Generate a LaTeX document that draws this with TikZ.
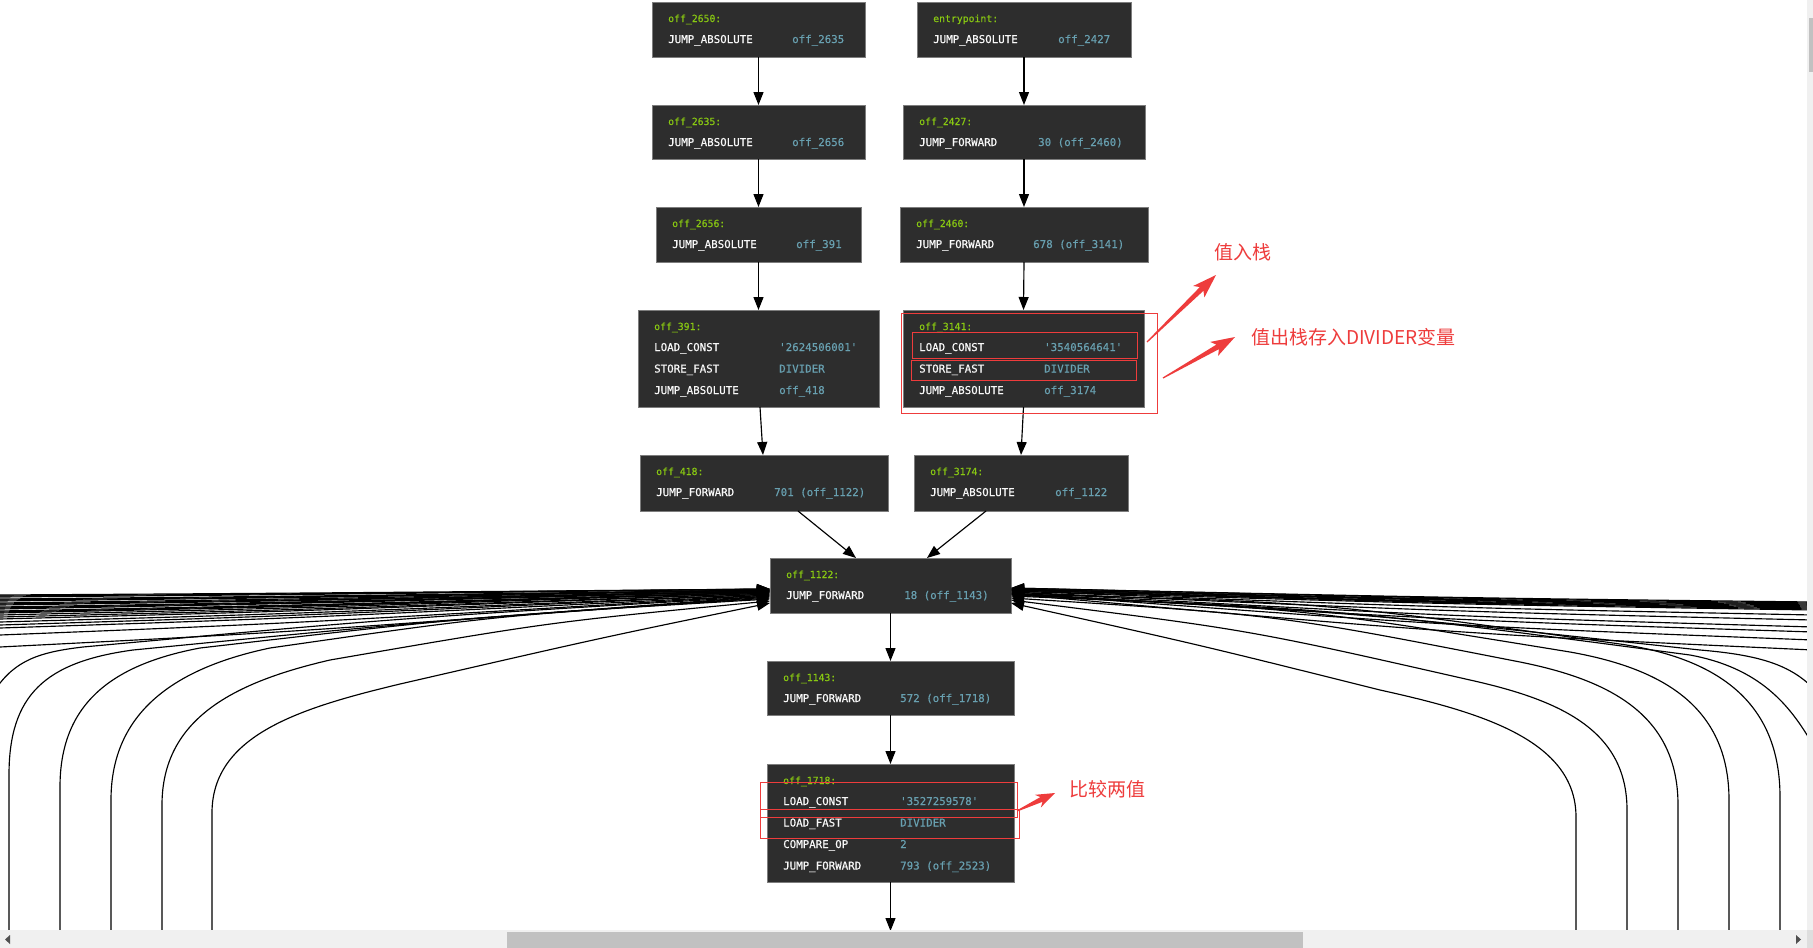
\documentclass[tikz,border=0pt]{standalone}
\usepackage{fontspec}
\usetikzlibrary{arrows.meta,calc}
\newfontfamily\codefont[FakeBold=0.45]{DejaVu Sans Mono}
\newfontfamily\cjk{Noto Sans CJK SC}
\definecolor{boxbg}{RGB}{45,45,45}
\definecolor{boxln}{RGB}{125,125,125}
\definecolor{lblc}{RGB}{136,200,18}
\definecolor{opcol}{RGB}{248,248,248}
\definecolor{argcol}{RGB}{104,160,176}
\definecolor{redc}{RGB}{238,60,60}
\definecolor{sbtrack}{RGB}{240,240,240}
\definecolor{sbthumb}{RGB}{193,193,193}
\definecolor{sbarrow}{RGB}{80,80,80}
\definecolor{sbcorner}{RGB}{222,222,222}

% name, x, y, width, height, label, arg column offset, rows
\newcommand\cfgbox[8]{%
  \node[blk, minimum width=#4pt, minimum height=#5pt] (#1) at (#2,#3) {};
  \node[lbl] (#1l) at ($(#1.north west)+(16,20)$) {#6};
  \foreach \xo/\xa [count=\i] in {#8} {
    \node[opc] (#1o\i) at ($(#1.north west)+(16,{41+21.5*(\i-1)})$) {\xo};
    \node[argc] (#1a\i) at ($(#1.north west)+(#7,{41+21.5*(\i-1)})$) {\xa};
  }%
}
% tail, tip, head length, head half width
\newcommand\redarr[4]{%
  \coordinate (#2H) at ($(#2)!#3!(#1)$);
  \coordinate (#2B) at ($(#2)!#3+4pt!(#1)$);
  \fill[redc] ($(#1)!0.6pt!90:(#2)$) -- ($(#2H)!2.6pt!90:(#2)$) -- ($(#2B)!#4!90:(#2)$) -- (#2)
     -- ($(#2B)!#4!-90:(#2)$) -- ($(#2H)!2.6pt!-90:(#2)$) -- ($(#1)!0.6pt!-90:(#2)$) -- cycle;
}

\begin{document}
\begin{tikzpicture}[x=1pt,y=-1pt,
  blk/.style={fill=boxbg, draw=boxln, line width=1pt, anchor=north west, inner sep=0pt, outer sep=0pt},
  lbl/.style={anchor=base west, inner sep=0pt, text=lblc, font=\codefont\fontsize{9.8}{11}\selectfont},
  opc/.style={anchor=base west, inner sep=0pt, text=opcol, font=\codefont\fontsize{10.8}{12}\selectfont},
  argc/.style={opc, text=argcol},
  flow/.style={draw=black, line width=1.15pt, -{Triangle[length=13pt,width=10pt]}},
  note/.style={draw=redc, line width=0.9pt},
  notetext/.style={text=redc, font=\cjk\fontsize{19}{22}\selectfont, anchor=west, inner sep=0pt}]

\useasboundingbox (0,0) rectangle (1813,948);
\fill[white] (0,0) rectangle (1813,948);

% ---------------- blocks ----------------
\cfgbox{n2650}{652}{2}{213}{55}{off\_2650:}{140}{JUMP\_ABSOLUTE/off\_2635}
\cfgbox{nentry}{917}{2}{214}{55}{entrypoint:}{141}{JUMP\_ABSOLUTE/off\_2427}
\cfgbox{n2635}{652}{105}{213}{54}{off\_2635:}{140}{JUMP\_ABSOLUTE/off\_2656}
\cfgbox{n2427}{903}{105}{242}{54}{off\_2427:}{135}{JUMP\_FORWARD/{30 (off\_2460)}}
\cfgbox{n2656}{656}{207}{205}{55}{off\_2656:}{140}{JUMP\_ABSOLUTE/off\_391}
\cfgbox{n2460}{900}{207}{248}{55}{off\_2460:}{133}{JUMP\_FORWARD/{678 (off\_3141)}}
\cfgbox{n391}{638}{310}{241}{97}{off\_391:}{141}{LOAD\_CONST/'2624506001', STORE\_FAST/DIVIDER, JUMP\_ABSOLUTE/off\_418}
\cfgbox{n3141}{903}{310}{241}{97}{off\_3141:}{141}{LOAD\_CONST/'3540564641', STORE\_FAST/DIVIDER, JUMP\_ABSOLUTE/off\_3174}
\cfgbox{n418}{640}{455}{248}{56}{off\_418:}{134}{JUMP\_FORWARD/{701 (off\_1122)}}
\cfgbox{n3174}{914}{455}{214}{56}{off\_3174:}{141}{JUMP\_ABSOLUTE/off\_1122}
\cfgbox{n1122}{770}{558}{241}{55}{off\_1122:}{134}{JUMP\_FORWARD/{18 (off\_1143)}}
\cfgbox{n1143}{767}{661}{247}{54}{off\_1143:}{133}{JUMP\_FORWARD/{572 (off\_1718)}}
\cfgbox{n1718}{767}{764}{247}{118}{off\_1718:}{133}{LOAD\_CONST/'3527259578', LOAD\_FAST/DIVIDER, COMPARE\_OP/2, JUMP\_FORWARD/{793 (off\_2523)}}

% ---------------- straight edges ----------------
\draw[flow] (n2650.south) -- (n2635.north);
\draw[flow] (nentry.south) -- (n2427.north);
\draw[flow] (n2635.south) -- (n2656.north);
\draw[flow] (n2427.south) -- (n2460.north);
\draw[flow] (n2656.south) -- (n391.north);
\draw[flow] (n2460.south) -- (n3141.north);
\draw[flow] ($(n391.south)+(1.5,0)$) -- ($(n418.north)+(-1,0)$);
\draw[flow] (n3141.south) -- (n3174.north);
\draw[flow] ($(n418.south)+(34,0)$) -- ($(n1122.north west)+(86,0)$);
\draw[flow] ($(n3174.south)+(-35,0)$) -- ($(n1122.north west)+(157,0)$);
\draw[flow] (n1122.south) -- (n1143.north);
\draw[flow] (n1143.south) -- (n1718.north);
\coordinate (cout) at (890.5,931);
\draw[flow] (n1718.south) -- (cout);

% ---------------- left converging edges ----------------
\foreach \ya/\yt in {595/589,596/589,597/589,599/590,600/590,601/590,603/590,604/591,605/591,607/591,608/591,609/591,611/592,612/592,613/592,615/592,617/593,619/593,622/594,625/594,628/595,635/595,647/596} {
  \coordinate (lb\ya) at (0,\ya);
  \draw[flow] (lb\ya) .. controls (300,{\yt+0.7*(\ya-\yt)}) .. ($(n1122.north west)+(0,{\yt-558})$);
}
\coordinate (w0) at (-5,690);
\draw[flow] (w0) .. controls (15,660) and (40,652) .. (83,647) .. controls (400,618) .. ($(n1122.north west)+(0,38)$);
\coordinate (v1) at (9,931);
\coordinate (v2) at (60,931);
\coordinate (v3) at (111,931);
\coordinate (v4) at (162,931);
\coordinate (v5) at (212,931);
\draw[flow] (v1) -- (9,775) .. controls (9,695) and (45,662) .. (133,650) .. controls (420,622) .. ($(n1122.north west)+(0,39)$);
\draw[flow] (v2) -- (60,787) .. controls (60,705) and (110,665) .. (200,648) .. controls (460,618) .. ($(n1122.north west)+(0,40)$);
\draw[flow] (v3) -- (111,800) .. controls (111,712) and (175,668) .. (270,648) .. controls (500,615) .. ($(n1122.north west)+(0,41)$);
\draw[flow] (v4) -- (162,805) .. controls (162,718) and (235,682) .. (330,660) .. controls (550,622) .. ($(n1122.north west)+(0,43)$);
\draw[flow] (v5) -- (212,813) .. controls (212,735) and (300,708) .. (400,684) .. controls (600,638) .. ($(n1122.north west)+(0,45)$);

% ---------------- right converging edges ----------------
\foreach \ya/\yt in {602/588,603/588,604/589,605/589,606/589,607/590,608/590,609/590,610/591,615/591,620/592,627/592,632/593,640/593,650/594} {
  \coordinate (rb\ya) at (1813,\ya);
  \draw[flow] (rb\ya) .. controls (1450,{\yt+0.7*(\ya-\yt)}) .. ($(n1122.north east)+(0,{\yt-558})$);
}
\coordinate (e1) at (1813,745);
\coordinate (e2) at (1813,688);
\draw[flow] (e1) .. controls (1790,705) and (1760,668) .. (1690,655) .. controls (1350,610) .. ($(n1122.north east)+(0,37)$);
\draw[flow] (e2) .. controls (1790,665) and (1760,655) .. (1700,650) .. controls (1350,612) .. ($(n1122.north east)+(0,36)$);
\coordinate (r1) at (1576,931);
\coordinate (r2) at (1627,931);
\coordinate (r3) at (1678,931);
\coordinate (r4) at (1729,931);
\coordinate (r5) at (1780,931);
\draw[flow] (r1) -- (1576,817) .. controls (1576,740) and (1480,712) .. (1380,690) .. controls (1200,645) .. ($(n1122.north east)+(0,45)$);
\draw[flow] (r2) -- (1627,810) .. controls (1627,730) and (1560,700) .. (1470,680) .. controls (1250,630) .. ($(n1122.north east)+(0,42)$);
\draw[flow] (r3) -- (1678,805) .. controls (1678,715) and (1610,680) .. (1520,662) .. controls (1280,615) .. ($(n1122.north east)+(0,40)$);
\draw[flow] (r4) -- (1729,800) .. controls (1729,705) and (1660,668) .. (1570,652) .. controls (1300,608) .. ($(n1122.north east)+(0,38)$);
\draw[flow] (r5) -- (1780,797) .. controls (1780,700) and (1715,658) .. (1620,644) .. controls (1320,602) .. ($(n1122.north east)+(0,36)$);

% ---------------- red annotations ----------------
\draw[note] (901,313) rectangle (1157,413);
\draw[note] (912,332) rectangle (1137,358);
\draw[note] (911,360) rectangle (1136,380);
\draw[note] (760,782) rectangle (1017,817);
\draw[note] (760,809) rectangle (1019,838);

\coordinate (a1t) at (1147,342);
\coordinate (a1h) at (1216,275);
\coordinate (a2t) at (1163,378);
\coordinate (a2h) at (1235,337);
\coordinate (a3t) at (1017,811);
\coordinate (a3h) at (1055,793);
\redarr{a1t}{a1h}{20pt}{8pt}
\redarr{a2t}{a2h}{20pt}{8pt}
\redarr{a3t}{a3h}{15pt}{7pt}

\node[notetext] (t1) at (1214,252) {值入栈};
\node[notetext] (t2) at (1251,337) {值出栈存入DIVIDER变量};
\node[notetext] (t3) at (1069,789) {比较两值};

% ---------------- scrollbars ----------------
\fill[sbtrack] (0,930) rectangle (1807,948);
\fill[sbthumb] (507,932) rectangle (1303,948);
\fill[sbarrow] (5,939.5) -- (10,935) -- (10,944) -- cycle;
\fill[sbarrow] (1801,939.5) -- (1796,935) -- (1796,944) -- cycle;
\fill[sbtrack] (1807,0) rectangle (1813,930);
\fill[sbthumb] (1809,18) rectangle (1813,72);
\fill[sbcorner] (1807,930) rectangle (1813,948);
\end{tikzpicture}
\end{document}
